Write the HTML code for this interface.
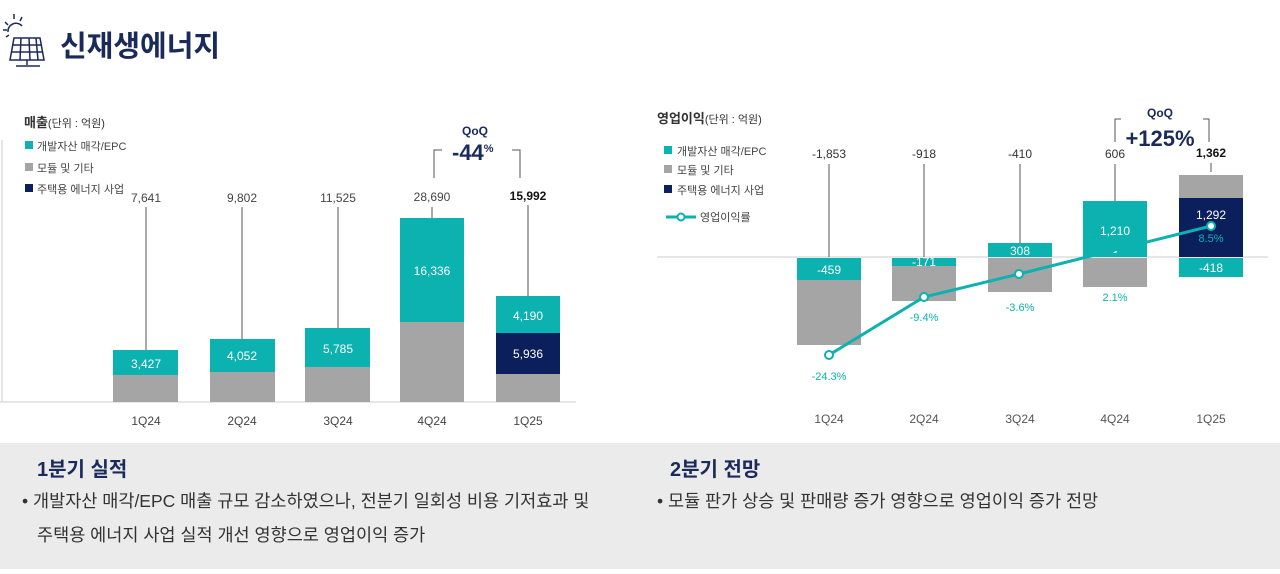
<!DOCTYPE html>
<html><head><meta charset="utf-8"><style>
html,body{margin:0;padding:0;background:#fff;}
body{width:1280px;height:574px;position:relative;overflow:hidden;font-family:"Liberation Sans","Noto Sans CJK KR",sans-serif;}
svg{position:absolute;left:0;top:0;}
.t{font-family:"Liberation Sans","Noto Sans CJK KR",sans-serif;}
</style></head><body>
<svg width="1280" height="574" viewBox="0 0 1280 574">
<g class="t">
<g stroke="#1a2a5a" stroke-width="1.5" fill="none">
<path d="M14 38 L40 38 L44 60 L10 60 Z"/>
<path d="M12 45 L42 45 M11 52 L43 52 M21 38 L20 60 M29 38 L30 60 M36 38 L38 60"/>
<path d="M27 60 L27 65 M16 66 L40 66"/>
<path d="M8 32 a8 8 0 0 1 14 -6"/>
<path d="M5 22 L8 25 M14 14 L14 19 M3 30 L7 30 M22 17 L20 21 M6 37 L9 35"/>
</g>
<text x="60" y="56" font-size="29" font-weight="bold" fill="#1a2a5a">신재생에너지</text>

<line x1="2" y1="140" x2="2" y2="402" stroke="#ddd" stroke-width="1.5"/>
<line x1="0" y1="402" x2="576" y2="402" stroke="#ddd" stroke-width="1.5"/>
<text x="24" y="127" font-size="13" font-weight="bold" fill="#333">매출<tspan font-size="11" font-weight="normal">(단위 : 억원)</tspan></text>
<rect x="25" y="141" width="8" height="8" fill="#0bb2af"/><text x="37" y="150" font-size="11" fill="#444">개발자산 매각/EPC</text>
<rect x="25" y="163" width="8" height="8" fill="#a5a5a5"/><text x="37" y="172" font-size="11" fill="#444">모듈 및 기타</text>
<rect x="25" y="184" width="8" height="8" fill="#0a1f5c"/><text x="37" y="193" font-size="11" fill="#444">주택용 에너지 사업</text>

<g stroke="#555" stroke-width="1">
<line x1="146" y1="207" x2="146" y2="350"/>
<line x1="242" y1="207" x2="242" y2="339"/>
<line x1="338" y1="207" x2="338" y2="328"/>
<line x1="432" y1="207" x2="432" y2="218"/>
<line x1="528" y1="205" x2="528" y2="296"/>
</g>
<rect x="113" y="350" width="65" height="25" fill="#0bb2af"/><rect x="113" y="375" width="65" height="27" fill="#a5a5a5"/>
<rect x="210" y="339" width="65" height="33" fill="#0bb2af"/><rect x="210" y="372" width="65" height="30" fill="#a5a5a5"/>
<rect x="305" y="328" width="65" height="39" fill="#0bb2af"/><rect x="305" y="367" width="65" height="35" fill="#a5a5a5"/>
<rect x="400" y="218" width="64" height="104" fill="#0bb2af"/><rect x="400" y="322" width="64" height="80" fill="#a5a5a5"/>
<rect x="496" y="296" width="64" height="37" fill="#0bb2af"/><rect x="496" y="333" width="64" height="41" fill="#0a1f5c"/><rect x="496" y="374" width="64" height="28" fill="#a5a5a5"/>
<g font-size="12" fill="#fff" text-anchor="middle">
<text x="146" y="368">3,427</text><text x="242" y="360">4,052</text><text x="338" y="353">5,785</text>
<text x="432" y="275">16,336</text><text x="528" y="320">4,190</text><text x="528" y="358">5,936</text>
</g>
<g font-size="12" fill="#444" text-anchor="middle">
<text x="146" y="202">7,641</text><text x="242" y="202">9,802</text><text x="338" y="202">11,525</text><text x="432" y="201">28,690</text>
<text x="528" y="200" font-weight="bold" fill="#111">15,992</text>
<text x="146" y="425">1Q24</text><text x="242" y="425">2Q24</text><text x="338" y="425">3Q24</text><text x="432" y="425">4Q24</text><text x="528" y="425">1Q25</text>
</g>
<path d="M434 178 L434 150 L442 150 M512 150 L520 150 L520 178" stroke="#555" fill="none"/>
<text x="475" y="135" font-size="12" font-weight="bold" fill="#1a2a5a" text-anchor="middle">QoQ</text>
<text x="452" y="160" font-size="22" font-weight="bold" fill="#1a2a5a">-44<tspan font-size="11" dy="-8">%</tspan></text>

<text x="657" y="123" font-size="13" font-weight="bold" fill="#333">영업이익<tspan font-size="11" font-weight="normal">(단위 : 억원)</tspan></text>
<rect x="664" y="146" width="8" height="8" fill="#0bb2af"/><text x="677" y="155" font-size="11" fill="#444">개발자산 매각/EPC</text>
<rect x="664" y="165" width="8" height="8" fill="#a5a5a5"/><text x="677" y="174" font-size="11" fill="#444">모듈 및 기타</text>
<rect x="664" y="185" width="8" height="8" fill="#0a1f5c"/><text x="677" y="194" font-size="11" fill="#444">주택용 에너지 사업</text>
<line x1="666" y1="217" x2="696" y2="217" stroke="#0bb2af" stroke-width="3"/><circle cx="681" cy="217" r="3.5" fill="#fff" stroke="#0bb2af" stroke-width="2"/>
<text x="700" y="221" font-size="11" fill="#444">영업이익률</text>

<line x1="657" y1="257" x2="1268" y2="257" stroke="#ddd" stroke-width="1.5"/>
<g stroke="#555" stroke-width="1">
<line x1="829" y1="164" x2="829" y2="257"/><line x1="924" y1="164" x2="924" y2="257"/>
<line x1="1020" y1="164" x2="1020" y2="243"/><line x1="1115" y1="164" x2="1115" y2="201"/>
<line x1="1211" y1="163" x2="1211" y2="172"/>
</g>
<rect x="797" y="258" width="64" height="22" fill="#0bb2af"/><rect x="797" y="280" width="64" height="65" fill="#a5a5a5"/>
<rect x="892" y="258" width="64" height="8" fill="#0bb2af"/><rect x="892" y="266" width="64" height="35" fill="#a5a5a5"/>
<rect x="988" y="243" width="64" height="14" fill="#0bb2af"/><rect x="988" y="258" width="64" height="34" fill="#a5a5a5"/>
<rect x="1083" y="201" width="64" height="56" fill="#0bb2af"/><rect x="1083" y="258" width="64" height="29" fill="#a5a5a5"/>
<rect x="1179" y="175" width="64" height="23" fill="#a5a5a5"/><rect x="1179" y="198" width="64" height="59" fill="#0a1f5c"/><rect x="1179" y="258" width="64" height="19" fill="#0bb2af"/>
<g font-size="12" fill="#fff" text-anchor="middle">
<text x="829" y="274">-459</text><text x="924" y="266">-171</text><text x="1020" y="255">308</text>
<text x="1115" y="235">1,210</text><text x="1211" y="219">1,292</text><text x="1211" y="272">-418</text>
</g>
<circle cx="1115" cy="251" r="2" fill="#fff"/>
<polyline points="829,355 924,297 1019,274 1115,250 1211,226" fill="none" stroke="#0bb2af" stroke-width="3"/>
<g fill="#fff" stroke="#0bb2af" stroke-width="2">
<circle cx="829" cy="355" r="4"/><circle cx="924" cy="297" r="4"/><circle cx="1019" cy="274" r="4"/><circle cx="1211" cy="226" r="4"/>
</g>
<g font-size="11" fill="#0bb2af" text-anchor="middle">
<text x="829" y="380">-24.3%</text><text x="924" y="321">-9.4%</text><text x="1020" y="311">-3.6%</text><text x="1115" y="301">2.1%</text><text x="1211" y="242">8.5%</text>
</g>
<g font-size="12" fill="#333" text-anchor="middle">
<text x="829" y="158">-1,853</text><text x="924" y="158">-918</text><text x="1020" y="158">-410</text><text x="1115" y="158">606</text>
<text x="1211" y="157" font-weight="bold" fill="#111">1,362</text>
</g>
<g font-size="12" fill="#555" text-anchor="middle">
<text x="829" y="423">1Q24</text><text x="924" y="423">2Q24</text><text x="1020" y="423">3Q24</text><text x="1115" y="423">4Q24</text><text x="1211" y="423">1Q25</text>
</g>
<path d="M1115 142 L1115 119 L1121 119 M1203 119 L1209 119 L1209 142" stroke="#555" fill="none"/>
<text x="1160" y="117" font-size="12" font-weight="bold" fill="#1a2a5a" text-anchor="middle">QoQ</text>
<text x="1160" y="146" font-size="22" font-weight="bold" fill="#1a2a5a" text-anchor="middle">+125%</text>

<rect x="0" y="443" width="1280" height="126" fill="#ebebeb"/>
<text x="37" y="476" font-size="20" font-weight="bold" fill="#1a2a5a">1분기 실적</text>
<text x="670" y="476" font-size="20" font-weight="bold" fill="#1a2a5a">2분기 전망</text>
<g font-size="17.5" fill="#333">
<text x="22" y="507">• 개발자산 매각/EPC 매출 규모 감소하였으나, 전분기 일회성 비용 기저효과 및</text>
<text x="37" y="541">주택용 에너지 사업 실적 개선 영향으로 영업이익 증가</text>
<text x="657" y="507">• 모듈 판가 상승 및 판매량 증가 영향으로 영업이익 증가 전망</text>
</g>
</g>
</svg>
</body></html>
